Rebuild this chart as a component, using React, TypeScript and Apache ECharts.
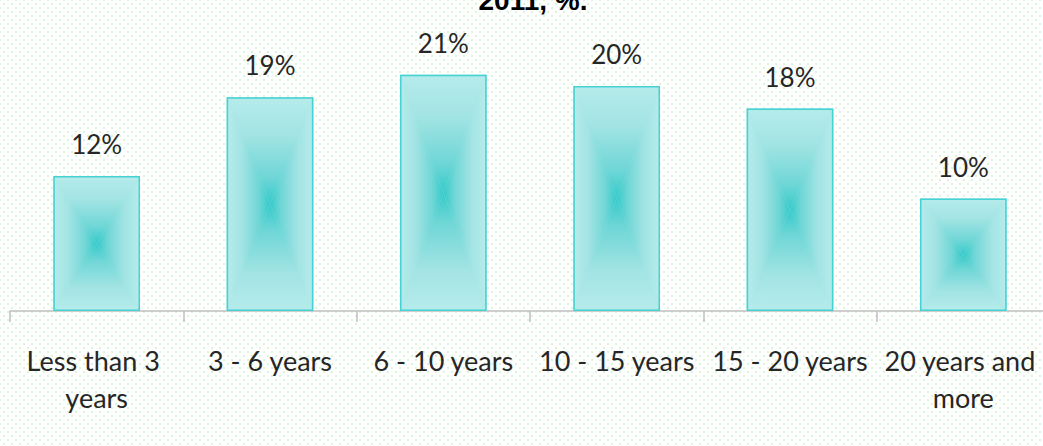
import React, { useEffect, useRef } from "react";
import * as echarts from "echarts";

const categories = ["Less than 3 years", "3 - 6 years", "6 - 10 years", "10 - 15 years", "15 - 20 years", "20 years and more"];
const values = [12, 19, 21, 20, 18, 10];
const titleText = "2011, %.";

const EDGE = "#b6ebeb";
const MID = "#a3e4e4";
const NEAR = "#6fd6d6";
const CENTER = "#36caca";
const BORDER = "#45d2d2";

function grad(x: number, y: number, x2: number, y2: number) {
  return new echarts.graphic.LinearGradient(x, y, x2, y2, [
    { offset: 0, color: EDGE },
    { offset: 0.35, color: MID },
    { offset: 0.75, color: NEAR },
    { offset: 1, color: CENTER },
  ]);
}

export default function App() {
  const ref = useRef<HTMLDivElement>(null);
  useEffect(() => {
    if (!ref.current) return;
    const chart = echarts.init(ref.current, undefined, { renderer: "svg" });
    const font = "Lato";
    chart.setOption({
      animation: false,
      backgroundColor: "transparent",
      grid: { left: 10, right: -7, top: 41, bottom: 135, containLabel: false, outerBoundsMode: "none" },
      xAxis: {
        type: "category",
        data: categories,
        boundaryGap: true,
        axisLine: { show: true, lineStyle: { color: "#bfbfbf", width: 1.5 } },
        axisTick: { show: true, interval: 0, alignWithLabel: false, length: 11, lineStyle: { color: "#bfbfbf", width: 1.5 } },
        axisLabel: {
          interval: 0,
          margin: 31,
          color: "#262626",
          fontFamily: font,
          fontSize: 27,
          lineHeight: 37,
          width: 170,
          overflow: "break",
        },
      },
      yAxis: { type: "value", min: 0, max: 24, show: false, splitLine: { show: false } },
      graphic: [
        {
          type: "text",
          x: 533,
          y: 14,
          style: {
            text: titleText,
            font: "bold 28px 'Liberation Sans'",
            fill: "#000",
            textAlign: "center",
            textVerticalAlign: "bottom",
          },
        },
      ],
      series: [
        {
          type: "custom",
          z: 2,
          data: values.map((v, i) => [i, v]),
          renderItem: (params: any, api: any) => {
            const idx = api.value(0);
            const v = api.value(1);
            const top = api.coord([idx, v]);
            const base = api.coord([idx, 0]);
            const bw = api.size([1, 0])[0] * 0.5;
            const x0 = top[0] - bw / 2;
            const x1 = top[0] + bw / 2;
            const y0 = top[1];
            const y1 = base[1];
            const cx = top[0];
            const cy = (y0 + y1) / 2;
            return {
              type: "group",
              children: [
                { type: "rect", shape: { x: x0, y: y0, width: bw, height: y1 - y0 }, style: { fill: MID } },
                { type: "polygon", shape: { points: [[x0, y0], [x1, y0], [cx, cy]] }, style: { fill: grad(0, 0, 0, 1) } },
                { type: "polygon", shape: { points: [[x0, y1], [x1, y1], [cx, cy]] }, style: { fill: grad(0, 1, 0, 0) } },
                { type: "polygon", shape: { points: [[x0, y0], [x0, y1], [cx, cy]] }, style: { fill: grad(0, 0, 1, 0) } },
                { type: "polygon", shape: { points: [[x1, y0], [x1, y1], [cx, cy]] }, style: { fill: grad(1, 0, 0, 0) } },
              ],
            };
          },
        },
        {
          type: "bar",
          z: 3,
          data: values,
          barWidth: "50%",
          itemStyle: { color: "transparent", borderColor: BORDER, borderWidth: 1.5 },
          label: {
            show: true,
            position: "top",
            distance: 19,
            formatter: "{c}%",
            color: "#262626",
            fontFamily: font,
            fontSize: 26,
          },
        },
      ],
    });
    return () => chart.dispose();
  }, []);
  return (
    <div
      ref={ref}
      style={{
        position: "absolute",
        left: 0,
        top: 0,
        width: 1043,
        height: 446,
        backgroundColor: "#ffffff",
        backgroundImage:
          "radial-gradient(circle, #d9f6d9 0.9px, transparent 1.3px), radial-gradient(circle, #d9f6d9 0.9px, transparent 1.3px)",
        backgroundSize: "8px 8px, 8px 8px",
        backgroundPosition: "0 0, 4px 4px",
      }}
    />
  );
}
